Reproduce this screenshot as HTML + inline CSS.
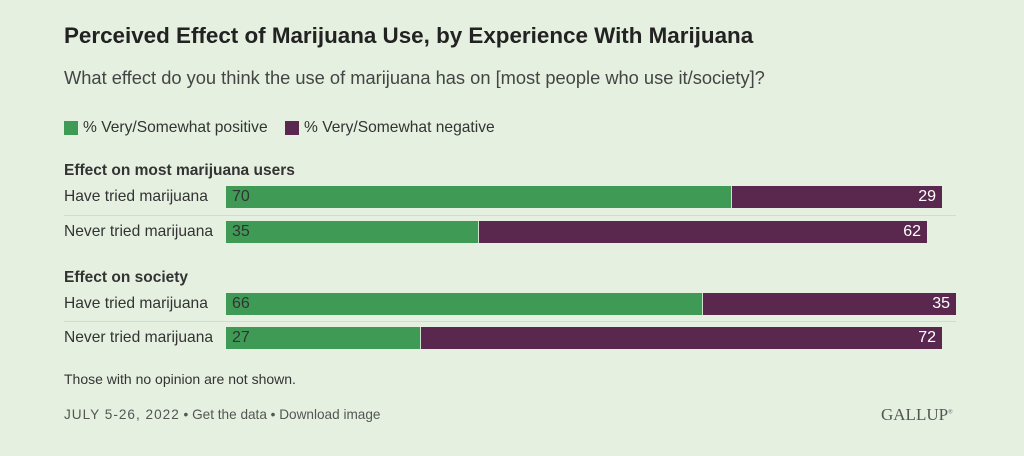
<!DOCTYPE html>
<html><head><meta charset="utf-8"><style>
body{margin:0;width:1024px;height:456px;background:#e5f0e1;font-family:"Liberation Sans",sans-serif;color:#333;position:relative;overflow:hidden}
.a{position:absolute;white-space:nowrap}
.bar{position:absolute;height:22px}
.g{background:#3f9a55;border-right:1px solid #cfe0cc}
.p{background:#5a284e}
.lbl{font-size:15.6px;color:#333}
.v{font-size:16px;line-height:22px}
.sep{position:absolute;left:64px;width:892px;height:1px;background:#d2dccf}
</style></head><body>
<div class="a" style="left:64px;top:23px;font-size:22.4px;font-weight:bold;color:#222">Perceived Effect of Marijuana Use, by Experience With Marijuana</div>
<div class="a" style="left:64px;top:67px;font-size:18.3px;color:#444">What effect do you think the use of marijuana has on [most people who use it/society]?</div>
<div class="a" style="left:64px;top:121px;width:14px;height:14px;background:#3f9a55"></div>
<div class="a lbl" style="left:83px;top:119px;font-size:15.6px">% Very/Somewhat positive</div>
<div class="a" style="left:285px;top:121px;width:14px;height:14px;background:#5a284e"></div>
<div class="a lbl" style="left:304px;top:119px;font-size:15.6px">% Very/Somewhat negative</div>
<div class="a" style="left:64px;top:162px;font-size:15.5px;font-weight:bold;color:#333">Effect on most marijuana users</div>
<div class="a lbl" style="left:64px;top:188px">Have tried marijuana</div>
<div class="bar g" style="left:226px;top:186px;width:505px"><span class="v" style="margin-left:6px">70</span></div>
<div class="bar p" style="left:732px;top:186px;width:210px"><span class="v" style="position:absolute;right:6px;color:#fff">29</span></div>
<div class="sep" style="top:215px"></div>
<div class="a lbl" style="left:64px;top:223px">Never tried marijuana</div>
<div class="bar g" style="left:226px;top:221px;width:252px"><span class="v" style="margin-left:6px">35</span></div>
<div class="bar p" style="left:479px;top:221px;width:448px"><span class="v" style="position:absolute;right:6px;color:#fff">62</span></div>
<div class="a" style="left:64px;top:269px;font-size:15.5px;font-weight:bold;color:#333">Effect on society</div>
<div class="a lbl" style="left:64px;top:295px">Have tried marijuana</div>
<div class="bar g" style="left:226px;top:293px;width:476px"><span class="v" style="margin-left:6px">66</span></div>
<div class="bar p" style="left:703px;top:293px;width:253px"><span class="v" style="position:absolute;right:6px;color:#fff">35</span></div>
<div class="sep" style="top:321px"></div>
<div class="a lbl" style="left:64px;top:329px">Never tried marijuana</div>
<div class="bar g" style="left:226px;top:327px;width:194px"><span class="v" style="margin-left:6px">27</span></div>
<div class="bar p" style="left:421px;top:327px;width:521px"><span class="v" style="position:absolute;right:6px;color:#fff">72</span></div>
<div class="a" style="left:64px;top:371px;font-size:14px;color:#333">Those with no opinion are not shown.</div>
<div class="a" style="left:64px;top:407px;font-size:13.6px;color:#555"><span style="letter-spacing:1px">JULY 5-26, 2022</span> • Get the data • Download image</div>
<div class="a" style="left:881px;top:405px;font-family:'Liberation Serif',serif;font-size:17px;color:#555">GALLUP<sup style="font-size:6px">®</sup></div>
</body></html>
